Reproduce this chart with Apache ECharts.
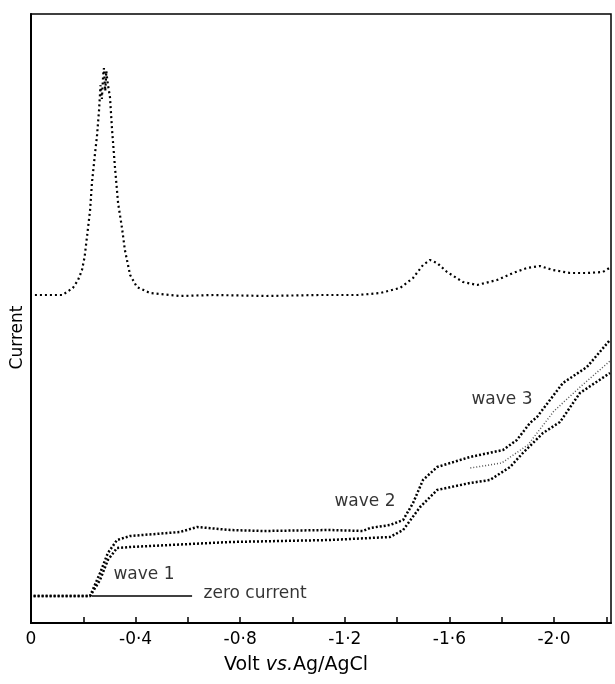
<!DOCTYPE html>
<html>
<head>
<meta charset="utf-8">
<script src="https://cdn.jsdelivr.net/npm/echarts@6/dist/echarts.min.js"></script>
<style>
  html, body { margin: 0; padding: 0; background: #fff; }
  #chart { width: 615px; height: 684px; }
</style>
</head>
<body>
<div id="chart"></div>
<script>
// volts are plotted as positive distance, labelled negative (vs. Ag/AgCl)
// current in arbitrary units

// upper (stripping) trace
const upperScan = [
  [0.015, 328], [0.12, 328], [0.16, 335], [0.18, 343], [0.195, 353], [0.205, 366],
  [0.214, 386], [0.226, 413], [0.233, 440], [0.245, 470], [0.252, 486], [0.26, 512],
  [0.266, 538], [0.271, 524], [0.276, 548], [0.279, 555], [0.284, 532], [0.288, 552],
  [0.293, 540], [0.302, 526], [0.31, 493], [0.321, 456], [0.333, 420], [0.348, 395],
  [0.359, 373], [0.379, 348], [0.405, 336], [0.455, 330], [0.57, 327], [0.7, 328],
  [0.9, 327], [1.1, 328], [1.25, 328], [1.335, 330], [1.411, 335], [1.461, 345],
  [1.499, 358], [1.526, 363], [1.553, 360], [1.591, 351], [1.652, 341], [1.706, 338],
  [1.782, 343], [1.843, 350], [1.897, 355], [1.946, 357], [1.996, 353], [2.061, 350],
  [2.126, 350], [2.187, 351], [2.218, 356]
];

// lower traces (waves 1-3)
const waveUpper = [
  [0.01, 27], [0.226, 27], [0.264, 50], [0.294, 70], [0.329, 83], [0.379, 87],
  [0.57, 91], [0.635, 96], [0.761, 93], [0.887, 92], [1.143, 93], [1.27, 92],
  [1.296, 95], [1.373, 98], [1.423, 103], [1.461, 120], [1.499, 143], [1.553, 156],
  [1.679, 166], [1.805, 173], [1.858, 183], [1.908, 200], [1.935, 206], [2.034, 240],
  [2.126, 256], [2.214, 283]
];

const waveMiddle = [
  [1.68, 155], [1.8, 160], [1.9, 178], [2.0, 212], [2.1, 236], [2.214, 262]
];

const waveLower = [
  [0.01, 27], [0.226, 27], [0.264, 43], [0.294, 63], [0.329, 75], [0.379, 76],
  [0.761, 81], [1.143, 83], [1.296, 85], [1.373, 86], [1.423, 93], [1.488, 116],
  [1.553, 133], [1.679, 140], [1.755, 143], [1.832, 156], [1.881, 170], [1.958, 190],
  [2.023, 201], [2.099, 230], [2.214, 250]
];

const zeroCurrent = [[0.233, 27], [0.616, 27]];

const annotations = [
  [0.432, 48, 'wave 1'],
  [0.857, 29, 'zero current'],
  [1.277, 121, 'wave 2'],
  [1.801, 223, 'wave 3']
];

const font = 'DejaVu Sans';

const myChart = echarts.init(document.getElementById('chart'));

const option = {
  backgroundColor: '#fff',
  animation: false,
  grid: {
    left: 31,
    right: 4,
    top: 14,
    bottom: 61,
    show: true,
    borderColor: '#000',
    borderWidth: 1.5
  },
  xAxis: {
    type: 'value',
    min: 0,
    max: 2.218,
    interval: 0.2,
    name: 'Volt {i|vs.}Ag/AgCl',
    nameLocation: 'middle',
    nameGap: 33,
    nameTextStyle: {
      fontFamily: font,
      fontSize: 19,
      color: '#000',
      padding: [0, 50, 0, 0],
      rich: {
        i: { fontFamily: font, fontSize: 19, fontStyle: 'italic', color: '#000' }
      }
    },
    axisLine: { lineStyle: { color: '#000', width: 2 } },
    axisTick: { inside: true, length: 6, lineStyle: { color: '#000', width: 1.5 } },
    splitLine: { show: false },
    axisLabel: {
      fontFamily: font,
      fontSize: 17,
      color: '#000',
      margin: 8,
      showMaxLabel: false,
      formatter: function (v) {
        const k = Math.round(v * 10);
        if (k === 0) return '0';
        if (k % 4 !== 0) return '';
        return '-' + (k / 10).toFixed(1).replace('.', '·');
      }
    }
  },
  yAxis: {
    type: 'value',
    min: 0,
    max: 609,
    name: 'Current',
    nameLocation: 'middle',
    nameGap: 5,
    nameTextStyle: {
      fontFamily: font,
      fontSize: 17,
      color: '#000',
      padding: [0, 38, 0, 0]
    },
    axisLine: { show: true, lineStyle: { color: '#000', width: 2 } },
    axisTick: { show: false },
    axisLabel: { show: false },
    splitLine: { show: false }
  },
  series: [
    {
      name: 'upper scan',
      type: 'line',
      data: upperScan,
      symbol: 'none',
      silent: true,
      lineStyle: { color: '#000', width: 2.2, type: [2, 3] }
    },
    {
      name: 'wave upper',
      type: 'line',
      data: waveUpper,
      symbol: 'none',
      silent: true,
      lineStyle: { color: '#000', width: 2.5, type: [2, 2] }
    },
    {
      name: 'wave middle',
      type: 'line',
      data: waveMiddle,
      symbol: 'none',
      silent: true,
      lineStyle: { color: '#555', width: 1.5, type: [1, 2] }
    },
    {
      name: 'wave lower',
      type: 'line',
      data: waveLower,
      symbol: 'none',
      silent: true,
      lineStyle: { color: '#000', width: 2.5, type: [2, 2] }
    },
    {
      name: 'zero current',
      type: 'line',
      data: zeroCurrent,
      symbol: 'none',
      silent: true,
      lineStyle: { color: '#000', width: 1.5 }
    },
    {
      name: 'labels',
      type: 'scatter',
      data: annotations,
      symbolSize: 0,
      silent: true,
      itemStyle: { color: '#000' },
      label: {
        show: true,
        position: 'inside',
        fontFamily: font,
        fontSize: 17,
        color: '#000',
        textBorderWidth: 0,
        formatter: function (p) { return p.data[2]; }
      }
    }
  ]
};

myChart.setOption(option);
</script>
</body>
</html>
